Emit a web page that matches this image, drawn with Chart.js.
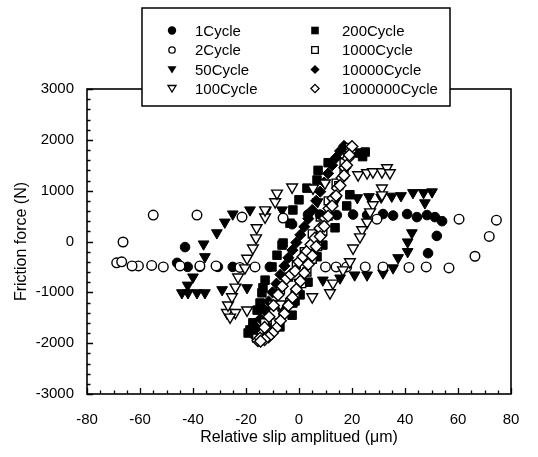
<!DOCTYPE html>
<html>
<head>
<meta charset="utf-8">
<script src="https://cdn.jsdelivr.net/npm/chart.js@4/dist/chart.umd.min.js"></script>
<style>
html,body{margin:0;padding:0;background:#fff;}
#wrap{width:538px;height:457px;position:relative;}
</style>
</head>
<body>
<div id="wrap"><canvas id="c" width="538" height="457"></canvas></div>
<script>
// ---------- data ----------
const seriesNames = ['1Cycle','2Cycle','50Cycle','100Cycle','200Cycle','1000Cycle','10000Cycle','1000000Cycle'];

const cyc1X = [-46,-42,-37.4,-30.6,-25,-11,-2.6,3.4,7.9,14.3,20.4,25.7,31.7,35.5,40.8,44.5,48.3,51.3,54,52,48.7];
const cyc1Y = [-420,-500,-500,-500,-500,-500,340,530,530,520,530,520,540,510,540,480,520,480,400,110,-230];
const cyc1bX = [-43];
const cyc1bY = [-110];

const cyc2X = [-68.8,-66.9,-66.4,-55,-38.5,-21.5,-6,29.4,60.4,74.5,71.8,66.4,56.6,48,41.5,31.7,25,18,14,10,-16.6,-22.3,-31.3,-37.4,-44.9,-51.2,-55.6,-60.6,-63];
const cyc2Y = [-420,-400,-10,520,520,480,460,440,440,420,100,-290,-520,-500,-510,-500,-500,-500,-500,-500,-500,-510,-480,-480,-480,-500,-470,-480,-480];

const cyc50X = [-44.2,-42,-40,-35.5,-36,-31,-28,-25,-18.5,-12.5,-6.4,7,14,22,26.4,31,35,38.5,43,47,50.2,47.5,42.6,41,41,37.4,35.5,31.7,25.7,21,15.5,9,0,-19.6,-29,-35.5,-38.5,-41.9];
const cyc50Y = [-1010,-860,-700,-300,-50,170,380,540,620,610,620,780,820,860,880,870,890,900,960,960,975,760,170,-10,-200,-320,-520,-620,-660,-660,-720,-760,-800,-910,-950,-1010,-1010,-1010];

const cyc100X = [-27.2,-26.8,-25.3,-24,-23,-20.4,-19.6,-17.4,-16.2,-16,-12.8,-12.8,-9,-8.3,-2.6,5.3,9.8,22.3,25.7,27.9,31.3,33.2,34.3,31.3,31.3,27.9,26.8,25.7,23.8,23,20.4,19.2,16.6,12.8,11.7,5,-7,-19.6,-24,-26];
const cyc100Y = [-1400,-1250,-1090,-900,-700,-520,-330,-130,70,270,480,620,780,950,1070,1050,1150,1310,1350,1370,1370,1450,1350,1050,915,720,580,380,230,90,-130,-400,-560,-820,-1010,-1090,-1230,-1350,-1400,-1490];

const cyc200X = [-19.2,-18.5,-17.4,-15.8,-14.7,-14,-13.6,-12.8,-10.2,-8.3,-6.4,-6,-3.4,-2.3,0,3,6.8,7.2,11,22.3,24,25,19.2,18,13.6,9,6.8,6,3.4,0.4,-2.3,-1.5,-6.4,-2.6,-7.2,-11];
const cyc200Y = [-1800,-1740,-1600,-1350,-1210,-1010,-910,-760,-500,-270,-70,-30,360,620,820,1050,1210,1400,1550,1740,1670,1760,920,700,270,-70,-300,-290,-800,-1050,-1210,-1170,-1290,-1450,-1680,-1700];

const cyc1000X = [-16,-13,-10,-7,-4,-1,2,5,8,11,14,17,19,18.5,17,15,13,11,9,7,5,3,1,-1.5,-3.5,-6,-9,-12,-14.5];
const cyc1000Y = [-1900,-1600,-1250,-950,-700,-450,-200,150,480,800,1150,1550,1850,1700,1400,1100,800,500,200,-100,-350,-600,-830,-1050,-1200,-1400,-1600,-1780,-1900];

const cyc10000X = [-17,-16,-14.5,-13,-11.5,-10,-8.5,-7,-5.5,-4,-2.5,-1,0.5,2,3.5,5,6.5,8,9.5,11,12.5,14,15.5,17,18];
const cyc10000Y = [-1850,-1700,-1520,-1350,-1180,-1000,-830,-650,-480,-320,-170,-20,130,290,450,620,800,980,1160,1340,1500,1650,1780,1880,1800];

const cyc1e6X = [-15.5,-14.7,-13,-11.3,-9.6,-7.9,-6.3,-4.7,-3.1,-1.5,0,1.5,3,4.5,6,7.9,9.8,11.3,12.8,14.5,16.2,17.3,18.5,19.5,20,
                 19,18,17,15.5,14,12.5,11,9.5,8,6.5,5,3.5,2,0.5,-1,-2.5,-4,-5.5,-7,-8.5,-10,-11.5,-13,-14.5];
const cyc1e6Y = [-1950,-1900,-1690,-1480,-1260,-1050,-880,-730,-650,-580,-400,-300,-190,-60,70,260,460,650,850,1050,1250,1450,1640,1780,1870,
                 1700,1500,1300,1100,900,700,500,300,100,-100,-280,-450,-620,-780,-940,-1100,-1260,-1420,-1560,-1700,-1800,-1880,-1930,-1960];

// axis ticks
const xMin = -80, xMax = 80, xStep = 20, xMinor = 5;
const yMin = -3000, yMax = 3000, yStep = 1000, yMinor = 200;
const xTitle = 'Relative slip amplitued (\u03bcm)';
const yTitle = 'Friction force (N)';

// ---------- build ----------
const FONT = "'Liberation Sans', Arial, Helvetica, sans-serif";
function pts(xs, ys){ return xs.map((v,i)=>({x:v, y:ys[i]})); }

// marker styles: [pointStyle, filled, radius, rotation]
const styles = {
  '1Cycle':      ['circle', true, 4.8, 0],
  '2Cycle':      ['circle', false, 4.8, 0],
  '50Cycle':     ['triangle', true, 6.2, 180],
  '100Cycle':    ['triangle', false, 6.2, 180],
  '200Cycle':    ['rect', true, 6, 0],
  '1000Cycle':   ['rect', false, 5.6, 0],
  '10000Cycle':  ['rectRot', true, 5.6, 0],
  '1000000Cycle':['rectRot', false, 5.8, 0]
};
const drawOrder = {'1000000Cycle':0,'100Cycle':1,'2Cycle':2,'1Cycle':3,'50Cycle':4,'1000Cycle':5,'10000Cycle':6,'200Cycle':7};

function ds(name, data){
  const s = styles[name];
  return {
    label: name, data: data,
    pointStyle: s[0], pointRadius: s[2], pointHoverRadius: s[2], pointRotation: s[3],
    backgroundColor: s[1] ? '#000' : '#fff',
    borderColor: '#000', borderWidth: s[1] ? 1 : 1.4,
    showLine: false, order: drawOrder[name]
  };
}

const datasets = [
  ds('1Cycle', pts(cyc1X.concat(cyc1bX), cyc1Y.concat(cyc1bY))),
  ds('2Cycle', pts(cyc2X, cyc2Y)),
  ds('50Cycle', pts(cyc50X, cyc50Y)),
  ds('100Cycle', pts(cyc100X, cyc100Y)),
  ds('200Cycle', pts(cyc200X, cyc200Y)),
  ds('1000Cycle', pts(cyc1000X, cyc1000Y)),
  ds('10000Cycle', pts(cyc10000X, cyc10000Y)),
  ds('1000000Cycle', pts(cyc1e6X, cyc1e6Y))
];

// frame + inward ticks
const framePlugin = {
  id: 'frame',
  beforeDatasetsDraw(chart){
    const {ctx, chartArea:{left,right,top,bottom}, scales:{x,y}} = chart;
    ctx.save();
    ctx.strokeStyle = '#000';
    ctx.lineWidth = 1.3;
    ctx.beginPath();
    for (let v = xMin; v <= xMax; v += xMinor){
      const px = Math.round(x.getPixelForValue(v)) + 0.5;
      const len = (v % xStep === 0) ? 6 : 3.5;
      ctx.moveTo(px, bottom); ctx.lineTo(px, bottom - len);
    }
    for (let v = yMin; v <= yMax; v += yMinor){
      const py = Math.round(y.getPixelForValue(v)) + 0.5;
      const len = (v % yStep === 0) ? 6 : 3.5;
      ctx.moveTo(left, py); ctx.lineTo(left + len, py);
    }
    ctx.stroke();
    ctx.lineWidth = 1.6;
    ctx.strokeRect(left, top, right - left, bottom - top);
    ctx.restore();
  }
};

function drawMarker(ctx, style, filled, cx, cy, s){
  ctx.beginPath();
  if (style === 'circle'){
    ctx.arc(cx, cy, filled ? s : s - 0.5, 0, Math.PI*2);
  } else if (style === 'triangle'){
    ctx.moveTo(cx - s, cy - s*0.75); ctx.lineTo(cx + s, cy - s*0.75); ctx.lineTo(cx, cy + s*0.9); ctx.closePath();
  } else if (style === 'rect'){
    ctx.rect(cx - s, cy - s, 2*s, 2*s);
  } else if (style === 'rectRot'){
    ctx.moveTo(cx, cy - s); ctx.lineTo(cx + s, cy); ctx.lineTo(cx, cy + s); ctx.lineTo(cx - s, cy); ctx.closePath();
  }
  if (filled){ ctx.fillStyle = '#000'; ctx.fill(); }
  else { ctx.fillStyle = '#fff'; ctx.fill(); ctx.lineWidth = 1.3; ctx.strokeStyle = '#000'; ctx.stroke(); }
}

const legendPlugin = {
  id: 'boxLegend',
  afterDraw(chart){
    const ctx = chart.ctx;
    const bx = 142, by = 8, bw = 308, bh = 98;
    ctx.save();
    ctx.fillStyle = '#fff';
    ctx.fillRect(bx, by, bw, bh);
    ctx.strokeStyle = '#000'; ctx.lineWidth = 1.5;
    ctx.strokeRect(bx, by, bw, bh);
    const rows = [30.5, 50, 69.5, 88.5];
    const markX = [172, 315], textX = [195, 342];
    const sizes = {circle:4.2, triangle:4.5, rect:3.8, rectRot:4.6};
    seriesNames.forEach((n, i) => {
      const col = Math.floor(i / 4), row = i % 4;
      const s = styles[n];
      drawMarker(ctx, s[0], s[1], markX[col], rows[row], s[1] ? sizes[s[0]] : sizes[s[0]] - 0.5);
      ctx.fillStyle = '#000';
      ctx.font = '15px ' + FONT;
      ctx.textAlign = 'left'; ctx.textBaseline = 'middle';
      ctx.fillText(n, textX[col], rows[row] + 1);
    });
    ctx.restore();
  }
};

new Chart(document.getElementById('c'), {
  type: 'scatter',
  data: { datasets },
  options: {
    responsive: false,
    animation: false,
    layout: { padding: { top: 89, right: 27, left: 0, bottom: 0 } },
    plugins: { legend: { display: false }, tooltip: { enabled: false } },
    scales: {
      x: {
        type: 'linear', min: xMin, max: xMax,
        grid: { display: false },
        border: { display: false },
        ticks: { stepSize: xStep, color: '#000', padding: 9, font: { family: FONT, size: 15 }, callback: v => String(v) },
        title: { display: true, text: xTitle, color: '#000', font: { family: FONT, size: 16 }, padding: { top: 0, bottom: 10 } },
        afterFit(s){ s.height = 63; }
      },
      y: {
        type: 'linear', min: yMin, max: yMax,
        grid: { display: false },
        border: { display: false },
        ticks: { stepSize: yStep, color: '#000', padding: 5, font: { family: FONT, size: 15 }, callback: v => String(v) },
        title: { display: true, text: yTitle, color: '#000', font: { family: FONT, size: 16 }, padding: { top: 12, bottom: 0 } },
        afterFit(s){ s.width = 87; }
      }
    }
  },
  plugins: [framePlugin, legendPlugin]
});
</script>
</body>
</html>
